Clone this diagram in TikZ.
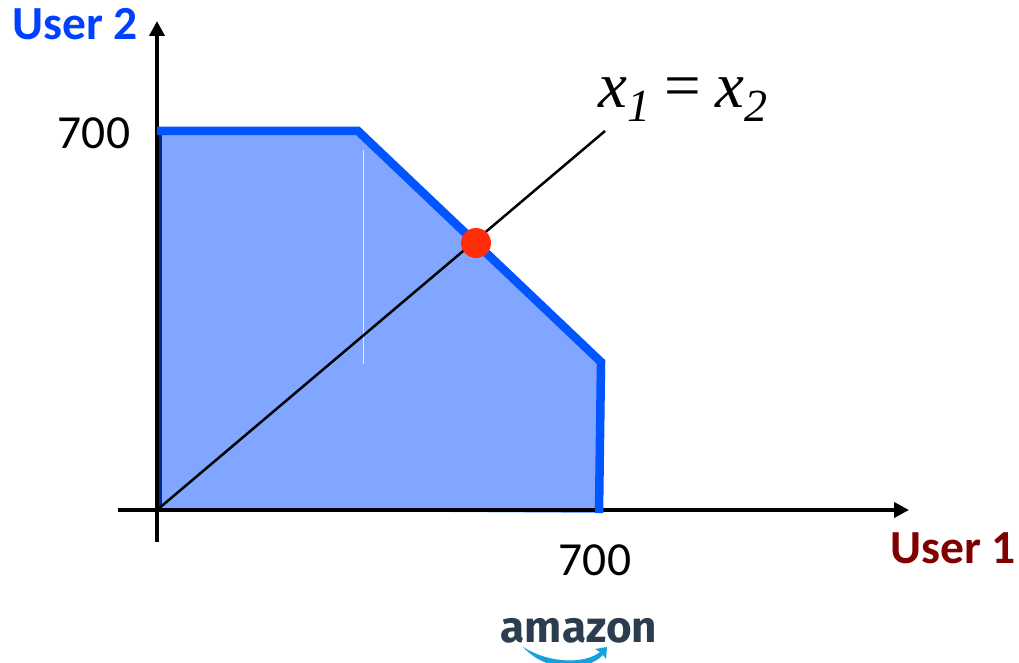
\documentclass[tikz,border=0pt]{standalone}
\usepackage{fontspec}
\setmainfont{Carlito}
\newfontfamily\serifit{Liberation Serif}[Scale=1]
\newfontfamily\logofont{Fira Sans}
\usetikzlibrary{arrows.meta}
\definecolor{regionfill}{RGB}{128,166,255}
\definecolor{regionedge}{RGB}{0,85,255}
\definecolor{leftedge}{RGB}{0,45,140}
\definecolor{userblue}{RGB}{0,64,255}
\definecolor{userred}{RGB}{128,0,0}
\definecolor{logodark}{RGB}{43,61,79}
\definecolor{logoblue}{RGB}{20,160,225}
\definecolor{dotred}{RGB}{255,45,10}
\tikzset{
  axisline/.style={black,line width=4pt,-{Triangle[length=15pt,width=15pt]}},
  frontier/.style={regionedge,line width=8.5pt,line join=miter},
  numlabel/.style={font=\fontsize{47.5}{50}\selectfont,inner sep=0pt},
  userlabel/.style={font=\fontsize{47.5}{50}\selectfont\bfseries,inner sep=0pt},
}
\begin{document}
\begin{tikzpicture}[x=1pt,y=-1pt]
\useasboundingbox (0,0) rectangle (1019,663);
\coordinate (o) at (157,510);
\coordinate (xend) at (909,510);
\coordinate (xtail) at (118,510);
\coordinate (yend) at (157,21);
\coordinate (ytail) at (157,542);
\coordinate (a) at (157,131);
\coordinate (b) at (358,131);
\coordinate (c) at (601,362);
\coordinate (d) at (599,513);
\coordinate (lineend) at (605,131);
% region
\fill[regionfill] (o) -- (a) -- (b) -- (c) -- (d) -- cycle;
\draw[white!75!regionfill,line width=0.8pt] (363,150) -- (363,364);
% axes
\draw[axisline] (xtail) -- (xend);
\draw[axisline] (ytail) -- (yend);
\draw[leftedge,line width=3pt] (160.5,134) -- (160.5,507);
% frontier
\draw[frontier] (157,131) -- (b) -- (c) -- (d);
% diagonal
\draw[black,line width=2.5pt] (o) -- (lineend);
\node[circle,fill=dotred,minimum size=30pt,inner sep=0pt] (dot) at (476,243) {};
% labels
\node[userlabel,text=userblue,anchor=center] (u2) at (75,24) {User 2};
\node[userlabel,text=userred,anchor=center] (u1) at (953,548) {User 1};
\node[numlabel] (y700) at (94,133) {700};
\node[numlabel] (x700) at (595,560) {700};
\node[inner sep=0pt,anchor=base,font=\serifit\itshape\fontsize{65}{68}\selectfont] (eq) at (683,108) {x\raisebox{-14pt}{\fontsize{46}{46}\selectfont 1}\kern14pt\upshape=\kern15pt\itshape x\raisebox{-14pt}{\fontsize{46}{46}\selectfont 2}};
% logo
\node[inner sep=0pt,text=logodark,font=\logofont\bfseries\fontsize{44}{46}\selectfont] (logo) at (579,631) {amazon};
\fill[logoblue] (523,647) .. controls (550,664) and (585,664) .. (600,652) -- (595,649) -- (607,647) -- (606,659) -- (603,655) .. controls (585,673) and (546,672) .. (523,647) -- cycle;
\end{tikzpicture}
\end{document}
